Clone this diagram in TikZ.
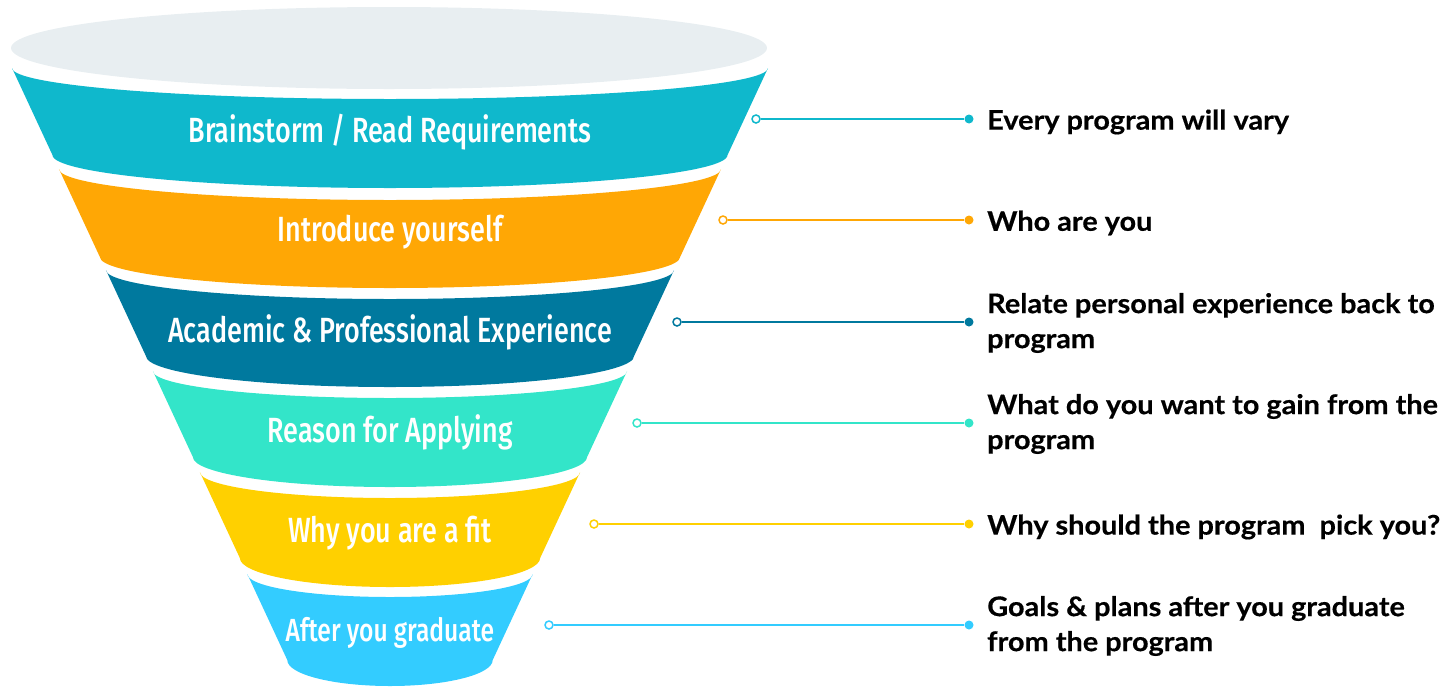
\documentclass[tikz,border=0pt]{standalone}
\usepackage{fontspec}
\newfontfamily\bandfont[FakeStretch=0.77,UprightFont=* Medium]{Fira Sans}
\newfontfamily\notefont[FakeStretch=1.07,BoldFeatures={FakeBold=0.4}]{Lato}
\definecolor{topgray}{HTML}{E8EEF1}
\definecolor{cA}{HTML}{0FB8CC}
\definecolor{cB}{HTML}{FFA705}
\definecolor{cC}{HTML}{00799E}
\definecolor{cD}{HTML}{33E5C9}
\definecolor{cE}{HTML}{FFD000}
\definecolor{cF}{HTML}{33CCFF}
\newcommand\fband[5]{%
 \pgfmathsetmacro\fTL{12+0.465*(#2-68)}%
 \pgfmathsetmacro\fBL{12+0.465*(#3-68)}%
 \pgfmathsetmacro\fTR{780-\fTL}%
 \pgfmathsetmacro\fBR{780-\fBL}%
 \pgfmathsetmacro\fKT{0.5523*(390-\fTL)}%
 \pgfmathsetmacro\fKB{0.5523*(390-\fBL)}%
 \pgfmathsetmacro\fYT{#2+#4}%
 \pgfmathsetmacro\fYB{#3+#5}%
 \pgfmathsetmacro\fCT{#2+0.5523*#4}%
 \pgfmathsetmacro\fCB{#3+0.5523*#5}%
 \fill[#1] (\fTL,#2) -- (\fBL,#3)
   .. controls (\fBL,\fCB) and ({390-\fKB},\fYB) .. (390,\fYB)
   .. controls ({390+\fKB},\fYB) and (\fBR,\fCB) .. (\fBR,#3)
   -- (\fTR,#2)
   .. controls (\fTR,\fCT) and ({390+\fKT},\fYT) .. (390,\fYT)
   .. controls ({390-\fKT},\fYT) and (\fTL,\fCT) .. (\fTL,#2) -- cycle;
}
\begin{document}
\begin{tikzpicture}[x=1pt,y=-1pt,
 bandtext/.style={text=white,font=\bandfont\fontsize{35}{40}\selectfont,inner sep=0pt,anchor=base},
 notetext/.style={anchor=west,align=left,font=\notefont\bfseries\fontsize{27}{35}\selectfont,inner sep=0pt,text=black},
 opendot/.style={circle,draw=#1,fill=white,line width=1.5pt,minimum size=8pt,inner sep=0pt},
 fulldot/.style={circle,fill=#1,minimum size=9pt,inner sep=0pt},
 link/.style={draw=#1,line width=2pt}]
\useasboundingbox (0,0) rectangle (1447,686);
\fill[topgray] (389,48) ellipse [x radius=378pt, y radius=41pt];
\fband{cA}{68}{155}{31}{33}
\fband{cB}{169}{257}{31}{31}
\fband{cC}{270}{356}{29}{31}
\fband{cD}{371}{457}{27}{30}
\fband{cE}{472}{558}{26}{29}
\fband{cF}{574}{660}{23}{26}
\node[bandtext] (b1) at (390,142) {Brainstorm / Read Requirements};
\node[bandtext] (b2) at (390,241) {Introduce yourself};
\node[bandtext] (b3) at (390,342) {Academic \& Professional Experience};
\node[bandtext] (b4) at (390,442) {Reason for Applying};
\node[bandtext] (b5) at (390,542) {Why you are a fit};
\node[bandtext,font=\bandfont\fontsize{32}{38}\selectfont] (b6) at (390,641) {After you graduate};
% connectors
\node[opendot=cA] (o1) at (756,119) {};
\node[fulldot=cA] (f1) at (969,119) {};
\node[opendot=cB] (o2) at (723,220) {};
\node[fulldot=cB] (f2) at (969,220) {};
\node[opendot=cC] (o3) at (677,322) {};
\node[fulldot=cC] (f3) at (969,322) {};
\node[opendot=cD] (o4) at (637,423) {};
\node[fulldot=cD] (f4) at (969,423) {};
\node[opendot=cE] (o5) at (594,524) {};
\node[fulldot=cE] (f5) at (969,524) {};
\node[opendot=cF] (o6) at (549,625) {};
\node[fulldot=cF] (f6) at (969,625) {};
\draw[link=cA] (o1) -- (f1);
\draw[link=cB] (o2) -- (f2);
\draw[link=cC] (o3) -- (f3);
\draw[link=cD] (o4) -- (f4);
\draw[link=cE] (o5) -- (f5);
\draw[link=cF] (o6) -- (f6);
\node[notetext] (t1) at (987,122) {Every program will vary};
\node[notetext] (t2) at (987,223) {Who are you};
\node[notetext] (t3) at (987,323) {Relate personal experience back to\\program};
\node[notetext] (t4) at (987,424) {What do you want to gain from the\\program};
\node[notetext] (t5) at (987,527) {Why should the program\ \ pick you?};
\node[notetext] (t6) at (987,626) {Goals \& plans after you graduate\\from the program};
\end{tikzpicture}
\end{document}
